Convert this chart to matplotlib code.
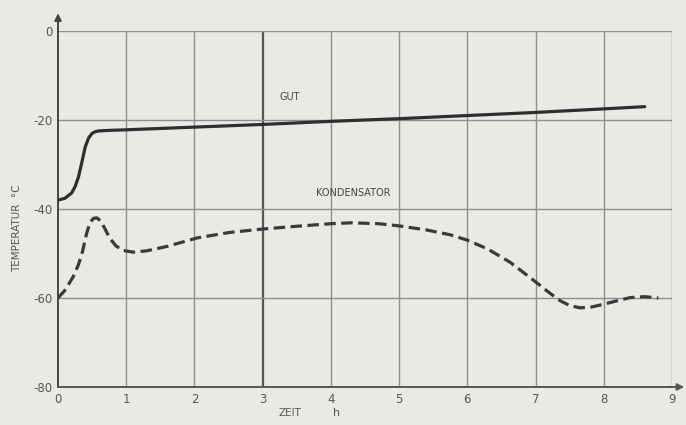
import matplotlib
matplotlib.use("Agg")
import matplotlib.pyplot as plt
import numpy as np

# Data
gut_x = [0, 0.1, 0.2, 0.25, 0.3, 0.35, 0.4, 0.45, 0.5, 0.55, 0.6, 0.8, 1, 2, 3, 4, 5, 6, 7, 8, 8.6]
gut_y = [-38, -37.6, -36.4, -35.0, -32.8, -29.5, -26.0, -24.0, -23.0, -22.6, -22.45, -22.3, -22.2, -21.6, -21.0, -20.3, -19.7, -19.0, -18.3, -17.5, -17.0]

kond_x = [0, 0.1, 0.22, 0.3, 0.36, 0.42, 0.47, 0.52, 0.57, 0.62, 0.68, 0.76, 0.85, 0.95, 1.1, 1.3, 1.6, 2.04, 2.5, 3.0, 3.4, 4.0, 4.3, 4.7, 5.0, 5.4, 5.75, 6.0, 6.3, 6.63, 7.02, 7.2, 7.36, 7.5, 7.65, 7.8, 8.0, 8.2, 8.39, 8.6, 8.8]
kond_y = [-60, -58.3, -55.3, -52.5, -49.5, -45.5, -43.0, -42.1, -42.0, -42.6, -44.2, -46.6, -48.3, -49.3, -49.7, -49.4, -48.4, -46.5, -45.3, -44.5, -44.0, -43.3, -43.1, -43.3, -43.8, -44.7, -45.8, -47, -49, -52, -56.6, -58.8, -60.6, -61.7, -62.2, -62.1, -61.4, -60.6, -59.9, -59.7, -60]

x_ticks = [0, 1, 2, 3, 4, 5, 6, 7, 8, 9]
y_ticks = [0, -20, -40, -60, -80]
x_ticklabels = ["0", "1", "2", "3", "4", "5", "6", "7", "8", "9"]
y_ticklabels = ["0", "-20", "-40", "-60", "-80"]

bg = "#e9e9e6"
fig = plt.figure(figsize=(6.86, 4.25), dpi=100, facecolor=bg)
ax = fig.add_axes([58/686, 1-387/425, (672-58)/686, (387-31)/425])
ax.set_facecolor(bg)
ax.set_xlim(0, 9)
ax.set_ylim(-80, 0)

grid_c = "#8e8e8e"
for xv in x_ticks[1:]:
    ax.axvline(xv, color="#555555" if xv == 3 else grid_c, lw=1.6 if xv == 3 else 1.0, zorder=1)
for yv in y_ticks[:-1]:
    ax.axhline(yv, color=grid_c, lw=1.0, zorder=1)

for s in ["top", "right"]:
    ax.spines[s].set_visible(False)
ax.spines["left"].set_color("#444444")
ax.spines["bottom"].set_color("#555555")
ax.spines["left"].set_linewidth(1.4)
ax.spines["bottom"].set_linewidth(1.4)

# axis arrows
ax.annotate("", xy=(0, 4.6), xytext=(0, -0.5), xycoords="data",
            arrowprops=dict(arrowstyle="-|>", color="#444444", lw=1.4, mutation_scale=10),
            annotation_clip=False)
ax.annotate("", xy=(9.22, -80), xytext=(8.9, -80), xycoords="data",
            arrowprops=dict(arrowstyle="-|>", color="#555555", lw=1.4, mutation_scale=10),
            annotation_clip=False)

ax.plot(gut_x, gut_y, color="#2e2e2e", lw=2.3, zorder=3, solid_capstyle="round", solid_joinstyle="round")
ax.plot(kond_x, kond_y, color="#3a3a3a", lw=2.3, zorder=3, linestyle=(0, (3.6, 1.7)), dash_joinstyle="round")

ax.set_xticks(x_ticks)
ax.set_xticklabels(x_ticklabels)
ax.set_yticks(y_ticks)
ax.set_yticklabels(y_ticklabels)
ax.tick_params(length=0, labelsize=8.5, colors="#555555", pad=4)
for lbl in ax.get_xticklabels() + ax.get_yticklabels():
    lbl.set_fontfamily("DejaVu Sans")

ax.text(3.4, -14.8, "GUT", fontsize=7, color="#444444", ha="center", va="center", family="DejaVu Sans")
ax.text(4.33, -36.4, "KONDENSATOR", fontsize=7, color="#444444", ha="center", va="center", family="DejaVu Sans")

fig.text(290/686, 1-413/425, "ZEIT", fontsize=7.5, color="#555555", ha="center", va="center")
fig.text(337/686, 1-413/425, "h", fontsize=8, color="#555555", ha="center", va="center")
fig.text(17/686, 1-228/425, "TEMPERATUR  °C", fontsize=7.5, color="#555555", ha="center", va="center", rotation=90)

fig.savefig("out.png", dpi=100, facecolor=bg)
